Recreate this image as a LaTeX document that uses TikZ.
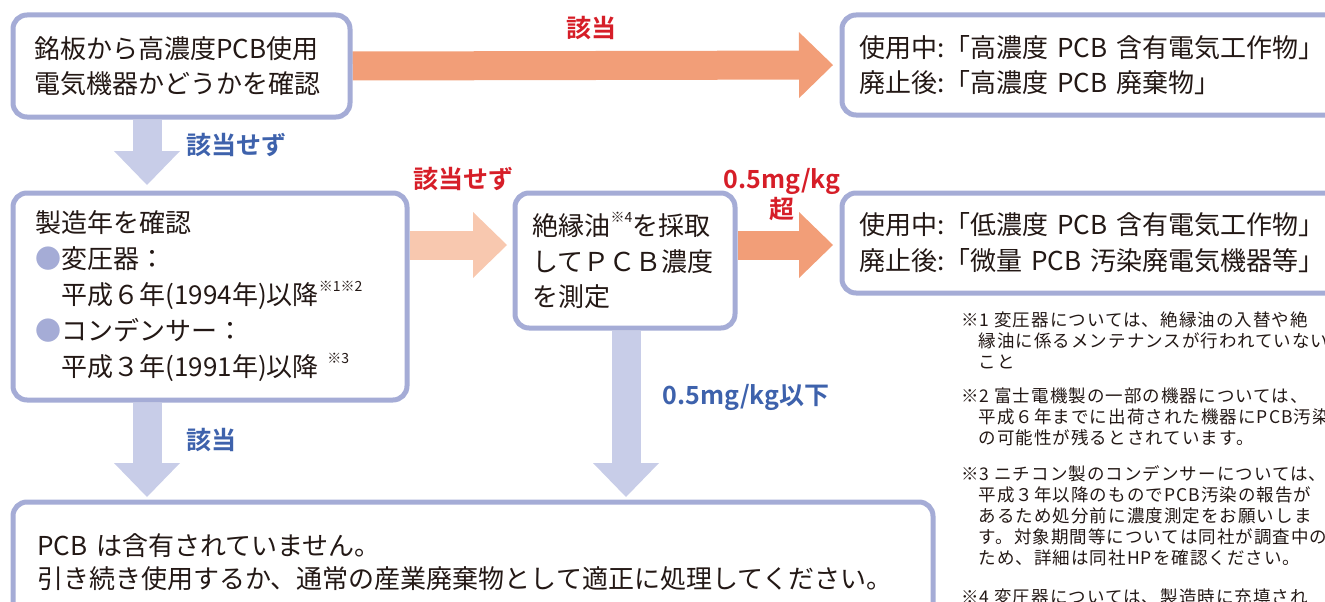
\documentclass[tikz,border=0pt]{standalone}
\usepackage{fontspec}
\setmainfont{Noto Sans CJK JP}[BoldFont={Noto Sans CJK JP Bold}]
\newfontfamily\notefont{Noto Sans CJK JP}[LetterSpace=6]
\usepackage{tikz}
\usetikzlibrary{backgrounds}
\usetikzlibrary{arrows.meta}

\definecolor{boxline}{RGB}{165,172,214}
\definecolor{downblue}{RGB}{200,205,232}
\definecolor{salmon}{RGB}{242,158,120}
\definecolor{paleorange}{RGB}{248,200,175}
\definecolor{labelred}{RGB}{214,30,40}
\definecolor{labelblue}{RGB}{62,98,172}
\definecolor{inktext}{RGB}{35,24,21}

\newcommand{\kome}[1]{\raisebox{.5em}{\fontsize{14}{14}\selectfont #1}}

\begin{document}
\begin{tikzpicture}[x=1pt, y=-1pt,
  box/.style={draw=boxline, line width=5pt, rounded corners=14pt, fill=white, text=inktext, anchor=north west, align=left, inner ysep=0pt},
  flow/.style={line width=29pt, -{Triangle[length=34pt, width=66pt, line width=0pt]}, shorten >=5.5pt},
  tag/.style={font=\fontsize{25}{30}\selectfont\bfseries},
  remark/.style={anchor=north west, align=left, text=inktext, inner sep=0pt, font=\notefont\fontsize{17.5}{21}\selectfont}]
\useasboundingbox (0,0) rectangle (1325,602);
\clip (0,0) rectangle (1325,602);
\coordinate (colA) at (147,0);
\coordinate (colB) at (626,0);
\coordinate (rowB) at (0,245);
\node[box, minimum height=102pt, text width=294pt, inner xsep=21.5pt, font=\fontsize{26}{35}\selectfont] (check) at (10.5,12.5) {銘板から高濃度PCB使用\\電気機器かどうかを確認};
\node[box, minimum height=100pt, text width=485pt, inner xsep=17.5pt, font=\fontsize{26}{35}\selectfont] (high) at (839.5,12.5) {使用中:「高濃度 PCB 含有電気工作物」\\廃止後:「高濃度 PCB 廃棄物」};
\node[box, minimum height=207pt, text width=349pt, inner xsep=22.5pt, font=\fontsize{26}{36}\selectfont] (year) at (10.5,190.5) {製造年を確認\\{\color{boxline}●}変圧器：\\\hspace*{1em}平成６年(1994年)以降\kome{※1※2}\\{\color{boxline}●}コンデンサー：\\\hspace*{1em}平成３年(1991年)以降 \kome{※3}};
\node[box, minimum height=135pt, text width=185pt, inner xsep=17.5pt, font=\fontsize{26}{35.5}\selectfont] (sample) at (512.5,190.5) {絶縁油\kome{※4}を採取\\してＰＣＢ濃度\\を測定};
\node[box, minimum height=100pt, text width=485pt, inner xsep=17.5pt, font=\fontsize{26}{36}\selectfont] (low) at (839.5,190.5) {使用中:「低濃度 PCB 含有電気工作物」\\廃止後:「微量 PCB 汚染廃電気機器等」};
\node[box, minimum height=120pt, text width=871pt, inner xsep=24.5pt, font=\fontsize{26}{33}\selectfont] (none) at (10.5,499.5) {PCB は含有されていません。\\引き続き使用するか、通常の産業廃棄物として適正に処理してください。};
\begin{scope}[on background layer]
\draw[flow, salmon, shorten >=6.5pt] (check.east) -- (high.west);
\draw[flow, downblue] (check.south -| colA) -- (year.north -| colA);
\draw[flow, paleorange] (year.east |- rowB) -- (sample.west |- rowB);
\draw[flow, salmon, shorten >=6.5pt] (sample.east |- rowB) -- (low.west |- rowB);
\draw[flow, downblue, shorten >=2.5pt] (year.south -| colA) -- (none.north -| colA);
\draw[flow, downblue, shorten >=2.5pt] (sample.south -| colB) -- (none.north -| colB);
\end{scope}
\node[tag, labelred] (yes1) at (591,28) {該当};
\node[tag, labelblue] (no1) at (236,145) {該当せず};
\node[tag, labelred] (no2) at (463,179) {該当せず};
\node[tag, labelred, align=center] (over) at (782,195) {0.5mg/kg\\超};
\node[tag, labelblue] (under) at (746,397) {0.5mg/kg以下};
\node[tag, labelblue] (yes2) at (211,440) {該当};
\node[remark] (note1) at (961,312) {※1 変圧器については、絶縁油の入替や絶\\\hspace*{1em}縁油に係るメンテナンスが行われていない\\\hspace*{1em}こと};
\node[remark] (note2) at (961,388) {※2 富士電機製の一部の機器については、\\\hspace*{1em}平成６年までに出荷された機器にPCB汚染\\\hspace*{1em}の可能性が残るとされています。};
\node[remark] (note3) at (961,465) {※3 ニチコン製のコンデンサーについては、\\\hspace*{1em}平成３年以降のものでPCB汚染の報告が\\\hspace*{1em}あるため処分前に濃度測定をお願いしま\\\hspace*{1em}す。対象期間等については同社が調査中の\\\hspace*{1em}ため、詳細は同社HPを確認ください。};
\node[remark] (note4) at (961,589) {※4 変圧器については、製造時に充填され};
\end{tikzpicture}
\end{document}
